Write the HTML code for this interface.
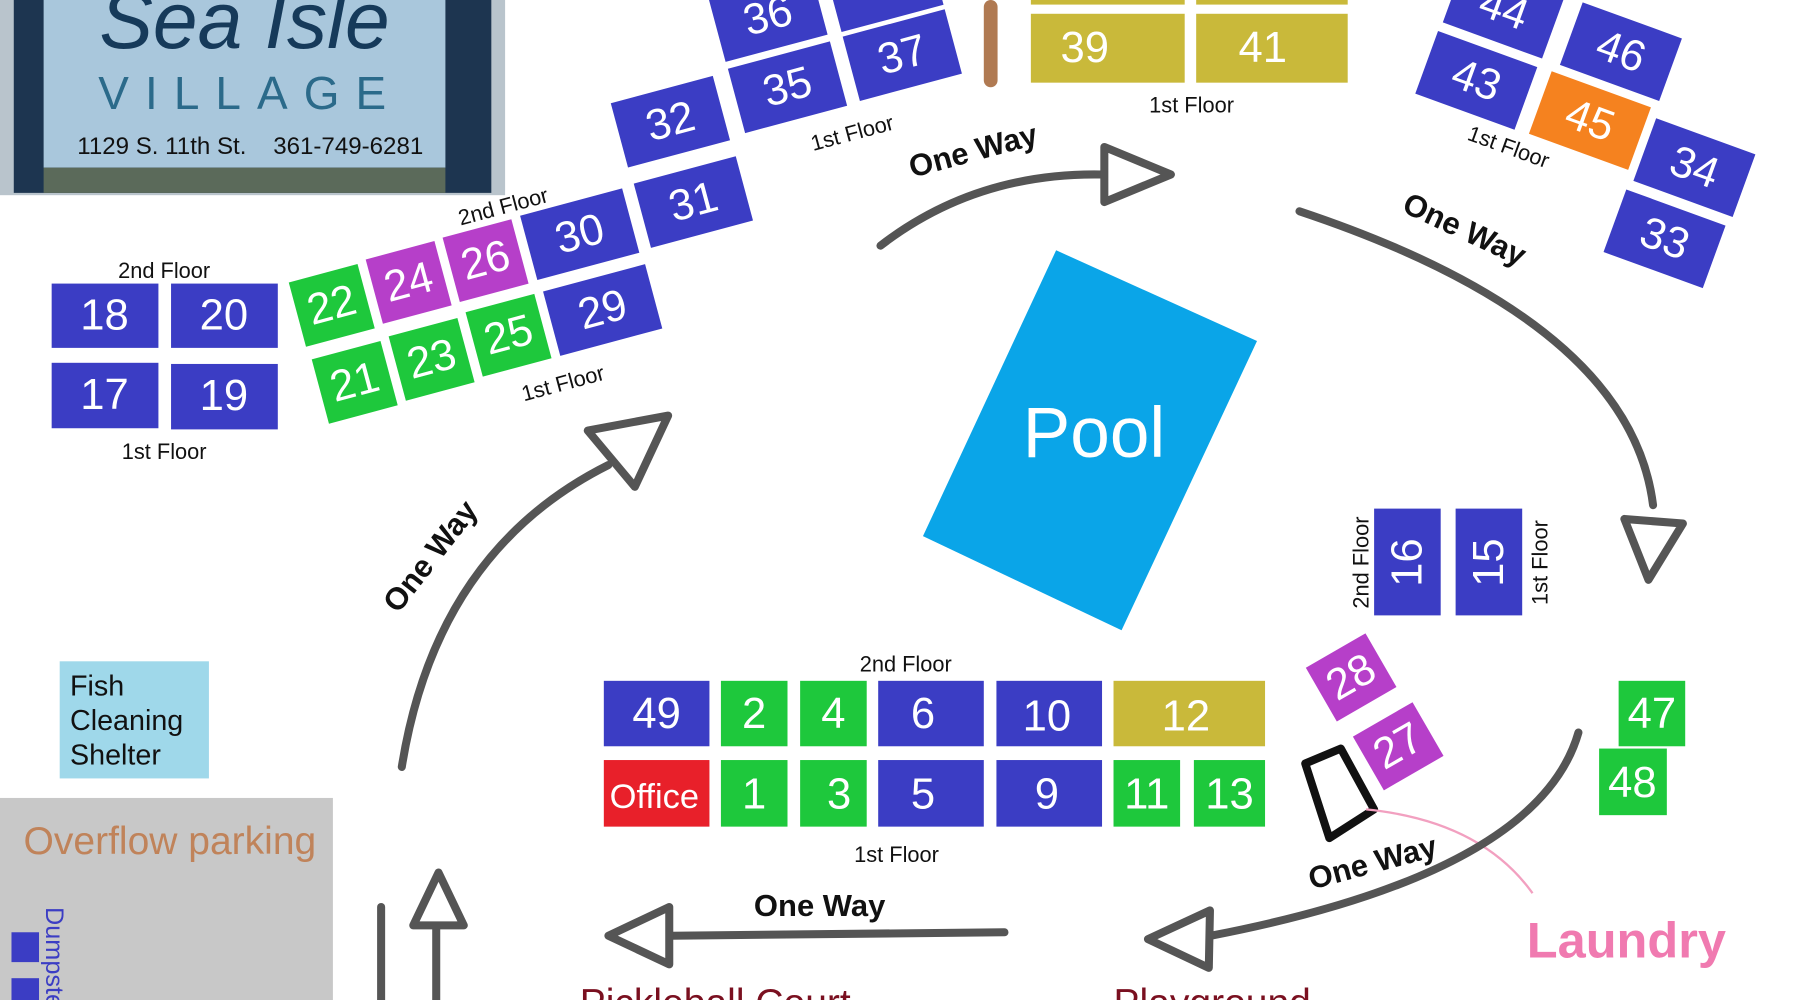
<!DOCTYPE html>
<html><head><meta charset="utf-8"><style>
html,body{margin:0;padding:0;background:#fff;}
svg{display:block}
text{font-family:"Liberation Sans","DejaVu Sans",sans-serif;}
.n{fill:#fff;font-size:38px;text-anchor:middle;dominant-baseline:central}
.f{fill:#111;font-size:19px;text-anchor:middle}
.ow{fill:#111;font-size:27px;font-weight:bold;text-anchor:middle}
.ar{fill:none;stroke:#555;stroke-width:7;stroke-linecap:round}
.hd{fill:#fff;stroke:#555;stroke-width:7;stroke-linejoin:round}
</style></head><body>
<svg width="1800" height="1000" viewBox="0 0 1568 871" preserveAspectRatio="none" xmlns="http://www.w3.org/2000/svg">
<rect width="1568" height="871" fill="#fff"/>
<!-- sign -->
<rect x="0" y="0" width="440" height="170" fill="#b9c4cc"/>
<rect x="12" y="0" width="416" height="168" fill="#1d3550"/>
<rect x="38" y="0" width="350" height="146" fill="#a9c7dc"/>
<text x="213" y="42" font-size="70" font-style="italic" fill="#163a5a" text-anchor="middle" font-family="Liberation Serif,serif">Sea Isle</text>
<text x="218" y="95" font-size="40" fill="#2b6a8a" text-anchor="middle" letter-spacing="14" font-family="Liberation Serif,serif">VILLAGE</text>
<text x="218" y="134" font-size="21" fill="#111" text-anchor="middle">1129 S. 11th St.&#160;&#160;&#160;&#160;361-749-6281</text>
<rect x="38" y="146" width="350" height="22" fill="#5b6a5a"/>
<!-- left block -->
<rect x="45" y="247" width="93" height="56" fill="#3b3dc4"/><text class="n" x="91" y="275">18</text>
<rect x="149" y="247" width="93" height="56" fill="#3b3dc4"/><text class="n" x="195" y="275">20</text>
<rect x="45" y="316" width="93" height="57" fill="#3b3dc4"/><text class="n" x="91" y="344">17</text>
<rect x="149" y="317" width="93" height="57" fill="#3b3dc4"/><text class="n" x="195" y="345">19</text>
<text class="f" x="143" y="242">2nd Floor</text>
<text class="f" x="143" y="400">1st Floor</text>
<!-- rotated middle-left -->
<g transform="translate(289,266) rotate(-15)"><rect x="-31" y="-29" width="62" height="58" fill="#1ec83c"/><text class="n" x="0" y="0">22</text></g>
<g transform="translate(356,246) rotate(-15)"><rect x="-31" y="-29" width="62" height="58" fill="#b63fc9"/><text class="n" x="0" y="0">24</text></g>
<g transform="translate(423,227) rotate(-15)"><rect x="-31" y="-29" width="62" height="58" fill="#b63fc9"/><text class="n" x="0" y="0">26</text></g>
<g transform="translate(505,204) rotate(-15)"><rect x="-46" y="-29" width="92" height="58" fill="#3b3dc4"/><text class="n" x="0" y="0">30</text></g>
<g transform="translate(309,333) rotate(-15)"><rect x="-31" y="-29" width="62" height="58" fill="#1ec83c"/><text class="n" x="0" y="0">21</text></g>
<g transform="translate(376,313) rotate(-15)"><rect x="-31" y="-29" width="62" height="58" fill="#1ec83c"/><text class="n" x="0" y="0">23</text></g>
<g transform="translate(443,292) rotate(-15)"><rect x="-31" y="-29" width="62" height="58" fill="#1ec83c"/><text class="n" x="0" y="0">25</text></g>
<g transform="translate(525,270) rotate(-15)"><rect x="-46" y="-29" width="92" height="58" fill="#3b3dc4"/><text class="n" x="0" y="0">29</text></g>
<text class="f" transform="translate(440,186) rotate(-15)">2nd Floor</text>
<text class="f" transform="translate(492,340) rotate(-15)">1st Floor</text>
<!-- top middle -->
<g transform="translate(584,106) rotate(-15)"><rect x="-46" y="-29" width="92" height="58" fill="#3b3dc4"/><text class="n" x="0" y="0">32</text></g>
<g transform="translate(604,176) rotate(-15)"><rect x="-46" y="-29" width="92" height="58" fill="#3b3dc4"/><text class="n" x="0" y="0">31</text></g>
<g transform="translate(686,76) rotate(-15)"><rect x="-46" y="-29" width="92" height="58" fill="#3b3dc4"/><text class="n" x="0" y="0">35</text></g>
<g transform="translate(786,48) rotate(-15)"><rect x="-46" y="-29" width="92" height="58" fill="#3b3dc4"/><text class="n" x="0" y="0">37</text></g>
<g transform="translate(669,14) rotate(-15)"><rect x="-46" y="-29" width="92" height="58" fill="#3b3dc4"/><text class="n" x="0" y="0">36</text></g>
<g transform="translate(770,-12) rotate(-15)"><rect x="-46" y="-29" width="92" height="58" fill="#3b3dc4"/></g>
<text class="f" transform="translate(744,122) rotate(-15)">1st Floor</text>
<rect x="857" y="0" width="12" height="76" rx="6" fill="#b07a52"/>
<rect x="898" y="12" width="134" height="60" fill="#c9b93a"/><text class="n" x="945" y="42">39</text>
<rect x="1042" y="12" width="132" height="60" fill="#c9b93a"/><text class="n" x="1100" y="42">41</text>
<rect x="898" y="0" width="134" height="4" fill="#c9b93a"/><rect x="1042" y="0" width="132" height="4" fill="#c9b93a"/>
<text class="f" x="1038" y="98">1st Floor</text>
<!-- top right -->
<g transform="translate(1310,8) rotate(20)"><rect x="-46" y="-29" width="92" height="58" fill="#3b3dc4"/><text class="n" x="0" y="0">44</text></g>
<g transform="translate(1412,45) rotate(20)"><rect x="-46" y="-29" width="92" height="58" fill="#3b3dc4"/><text class="n" x="0" y="0">46</text></g>
<g transform="translate(1286,70) rotate(20)"><rect x="-46" y="-29" width="92" height="58" fill="#3b3dc4"/><text class="n" x="0" y="0">43</text></g>
<g transform="translate(1385,105) rotate(20)"><rect x="-46" y="-29" width="92" height="58" fill="#f5821f"/><text class="n" x="0" y="0">45</text></g>
<g transform="translate(1476,146) rotate(20)"><rect x="-46" y="-29" width="92" height="58" fill="#3b3dc4"/><text class="n" x="0" y="0">34</text></g>
<g transform="translate(1450,208) rotate(20)"><rect x="-46" y="-29" width="92" height="58" fill="#3b3dc4"/><text class="n" x="0" y="0">33</text></g>
<text class="f" transform="translate(1312,134) rotate(20)">1st Floor</text>
<!-- pool -->
<polygon points="920,218 1095,297 977,549 804,467" fill="#0aa5e8"/>
<text x="953" y="398" font-size="62" fill="#fff" text-anchor="middle">Pool</text>
<!-- 16/15 -->
<rect x="1197" y="443" width="58" height="93" fill="#3b3dc4"/><text class="n" transform="translate(1226,490) rotate(-90)">16</text>
<rect x="1268" y="443" width="58" height="93" fill="#3b3dc4"/><text class="n" transform="translate(1297,490) rotate(-90)">15</text>
<text class="f" transform="translate(1192,490) rotate(-90)">2nd Floor</text>
<text class="f" transform="translate(1348,490) rotate(-90)">1st Floor</text>
<!-- bottom block -->
<rect x="526" y="593" width="92" height="57" fill="#3b3dc4"/><text class="n" x="572" y="622">49</text>
<rect x="628" y="593" width="58" height="57" fill="#1ec83c"/><text class="n" x="657" y="622">2</text>
<rect x="697" y="593" width="58" height="57" fill="#1ec83c"/><text class="n" x="726" y="622">4</text>
<rect x="765" y="593" width="92" height="57" fill="#3b3dc4"/><text class="n" x="804" y="622">6</text>
<rect x="868" y="593" width="92" height="57" fill="#3b3dc4"/><text class="n" x="912" y="624">10</text>
<rect x="970" y="593" width="132" height="57" fill="#c9b93a"/><text class="n" x="1033" y="624">12</text>
<rect x="526" y="662" width="92" height="58" fill="#e8202a"/><text class="n" x="570" y="694" style="font-size:30px">Office</text>
<rect x="628" y="662" width="58" height="58" fill="#1ec83c"/><text class="n" x="657" y="692">1</text>
<rect x="697" y="662" width="58" height="58" fill="#1ec83c"/><text class="n" x="731" y="692">3</text>
<rect x="765" y="662" width="92" height="58" fill="#3b3dc4"/><text class="n" x="804" y="692">5</text>
<rect x="868" y="662" width="92" height="58" fill="#3b3dc4"/><text class="n" x="912" y="692">9</text>
<rect x="970" y="662" width="58" height="58" fill="#1ec83c"/><text class="n" x="999" y="692">11</text>
<rect x="1040" y="662" width="62" height="58" fill="#1ec83c"/><text class="n" x="1071" y="692">13</text>
<text class="f" x="789" y="585">2nd Floor</text>
<text class="f" x="781" y="751">1st Floor</text>
<!-- 28/27 -->
<g transform="translate(1177,590) rotate(-30)"><rect x="-30" y="-27" width="60" height="54" fill="#b63fc9"/><text class="n" x="0" y="0">28</text></g>
<g transform="translate(1218,650) rotate(-30)"><rect x="-30" y="-27" width="60" height="54" fill="#b63fc9"/><text class="n" x="0" y="0">27</text></g>
<polygon points="1137,665 1168,652 1197,705 1158,730" fill="none" stroke="#111" stroke-width="7" stroke-linejoin="round"/>
<path d="M1190,705 Q1290,715 1335,778" fill="none" stroke="#f2a0c0" stroke-width="2"/>
<rect x="1410" y="593" width="58" height="57" fill="#1ec83c"/><text class="n" x="1439" y="622">47</text>
<rect x="1393" y="652" width="59" height="58" fill="#1ec83c"/><text class="n" x="1422" y="682">48</text>
<!-- fish / overflow -->
<rect x="52" y="576" width="130" height="102" fill="#9fd8ea"/>
<text x="61" y="606" font-size="25" fill="#111">Fish</text>
<text x="61" y="636" font-size="25" fill="#111">Cleaning</text>
<text x="61" y="666" font-size="25" fill="#111">Shelter</text>
<rect x="0" y="695" width="290" height="176" fill="#c8c8c8"/>
<text x="148" y="744" font-size="34" fill="#c0835a" text-anchor="middle">Overflow parking</text>
<rect x="10" y="812" width="24" height="26" fill="#3b3dc4"/><rect x="10" y="852" width="24" height="19" fill="#3b3dc4"/>
<text transform="translate(40,790) rotate(90)" font-size="22" fill="#3b3dc4">Dumpster</text>
<!-- arrows -->
<path class="ar" d="M767,214 Q850,150 960,152"/><polygon class="hd" points="962,128 1020,152 962,176"/>
<text class="ow" transform="translate(850,140) rotate(-15)">One Way</text>
<path class="ar" d="M1132,184 Q1420,280 1440,440"/><polygon class="hd" points="1415,452 1466,456 1436,505"/>
<text class="ow" transform="translate(1272,208) rotate(25)">One Way</text>
<path class="ar" d="M1375,638 Q1340,760 1055,815"/><polygon class="hd" points="1000,818 1054,793 1053,843"/>
<text class="ow" transform="translate(1198,760) rotate(-15)">One Way</text>
<path class="ar" d="M875,812 L585,815"/><polygon class="hd" points="530,815 583,790 583,840"/>
<text class="ow" x="714" y="798">One Way</text>
<path class="ar" d="M350,668 Q380,480 530,405"/><polygon class="hd" points="512,375 582,362 553,424"/>
<text class="ow" transform="translate(382,490) rotate(-52)">One Way</text>
<path class="ar" d="M380,871 L380,808"/><polygon class="hd" points="360,806 382,760 404,806"/>
<path class="ar" d="M332,790 L332,871"/>
<!-- bottom labels -->
<text x="505" y="885" font-size="34" fill="#7a1020">Pickleball Court</text>
<text x="970" y="885" font-size="34" fill="#7a1020">Playground</text>
<text x="1330" y="834" font-size="44" font-weight="bold" fill="#f07ab0">Laundry</text>
</svg>
</body></html>
